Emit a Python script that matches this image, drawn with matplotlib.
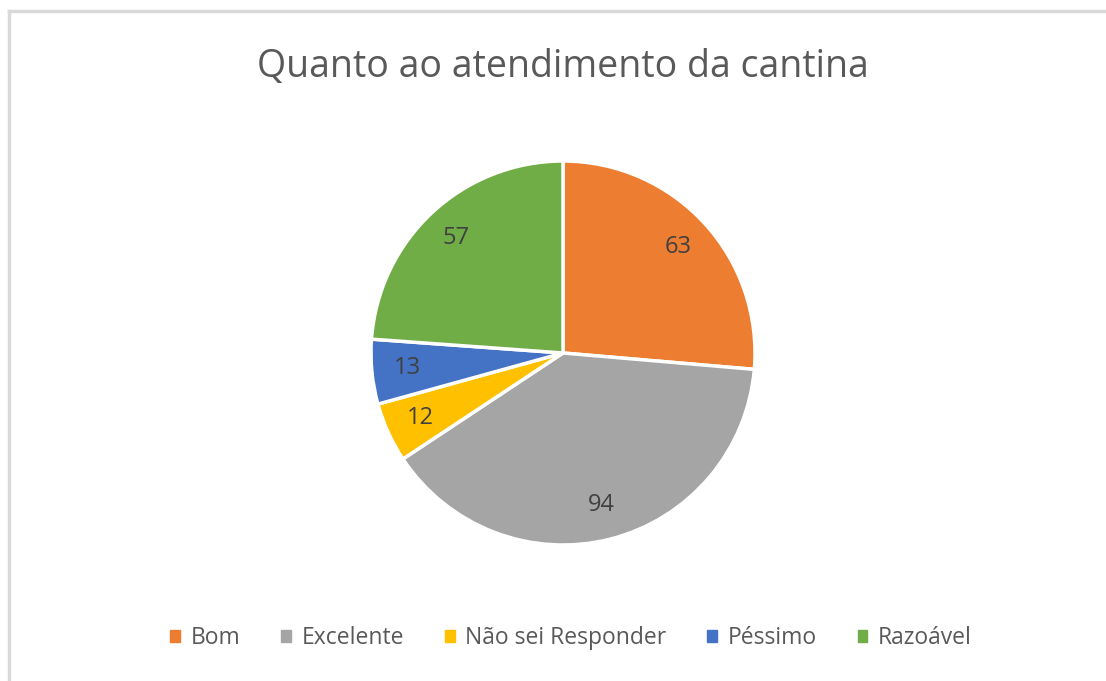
import matplotlib.pyplot as plt
from matplotlib.lines import Line2D

# survey answers
categories = ["Bom", "Excelente", "Não sei Responder", "Péssimo", "Razoável"]
counts = [63, 94, 12, 13, 57]
colors = ["#ED7D31", "#A5A5A5", "#FFC000", "#4472C4", "#70AD47"]

plt.rcParams['font.family'] = ['Open Sans', 'DejaVu Sans']
text_color = '#595959'

fig = plt.figure(figsize=(11.06, 6.81), dpi=100)
fig.patch.set_facecolor('white')

# chart frame (top and left edges)
fig.add_artist(Line2D([9 / 1106, 1], [1 - 11 / 681, 1 - 11 / 681], color='#d9d9d9', lw=2.5))
fig.add_artist(Line2D([9 / 1106, 9 / 1106], [0, 1 - 11 / 681], color='#d9d9d9', lw=2.5))

# pie axes: centre (563, 353), radius ~192 px
r = 192
cx, cy = 563, 353
ax = fig.add_axes([(cx - r) / 1106, 1 - (cy + r) / 681, 2 * r / 1106, 2 * r / 681])
wedges, texts = ax.pie(
    counts,
    colors=colors,
    startangle=90,
    counterclock=False,
    labels=[str(c) for c in counts],
    labeldistance=0.815,
    wedgeprops=dict(edgecolor='white', linewidth=2.5),
    textprops=dict(color='#404040', fontsize=17),
)
for t in texts:
    t.set_ha('center')
    t.set_va('center')
ax.set_xlim(-1, 1)
ax.set_ylim(-1, 1)
ax.set_aspect('equal')

fig.text(cx / 1106, 1 - 67 / 681, "Quanto ao atendimento da cantina",
         ha='center', va='center', fontsize=27, color=text_color)

handles = [plt.Rectangle((0, 0), 1, 1, color=c) for c in colors]
fig.legend(handles, categories, loc='center', bbox_to_anchor=(571 / 1106, 1 - 638 / 681),
           ncol=5, frameon=False, fontsize=16.5, labelcolor=text_color,
           handlelength=0.42, handleheight=0.42, handletextpad=0.45, columnspacing=1.8)

fig.savefig('out.png', dpi=100, facecolor='white')
